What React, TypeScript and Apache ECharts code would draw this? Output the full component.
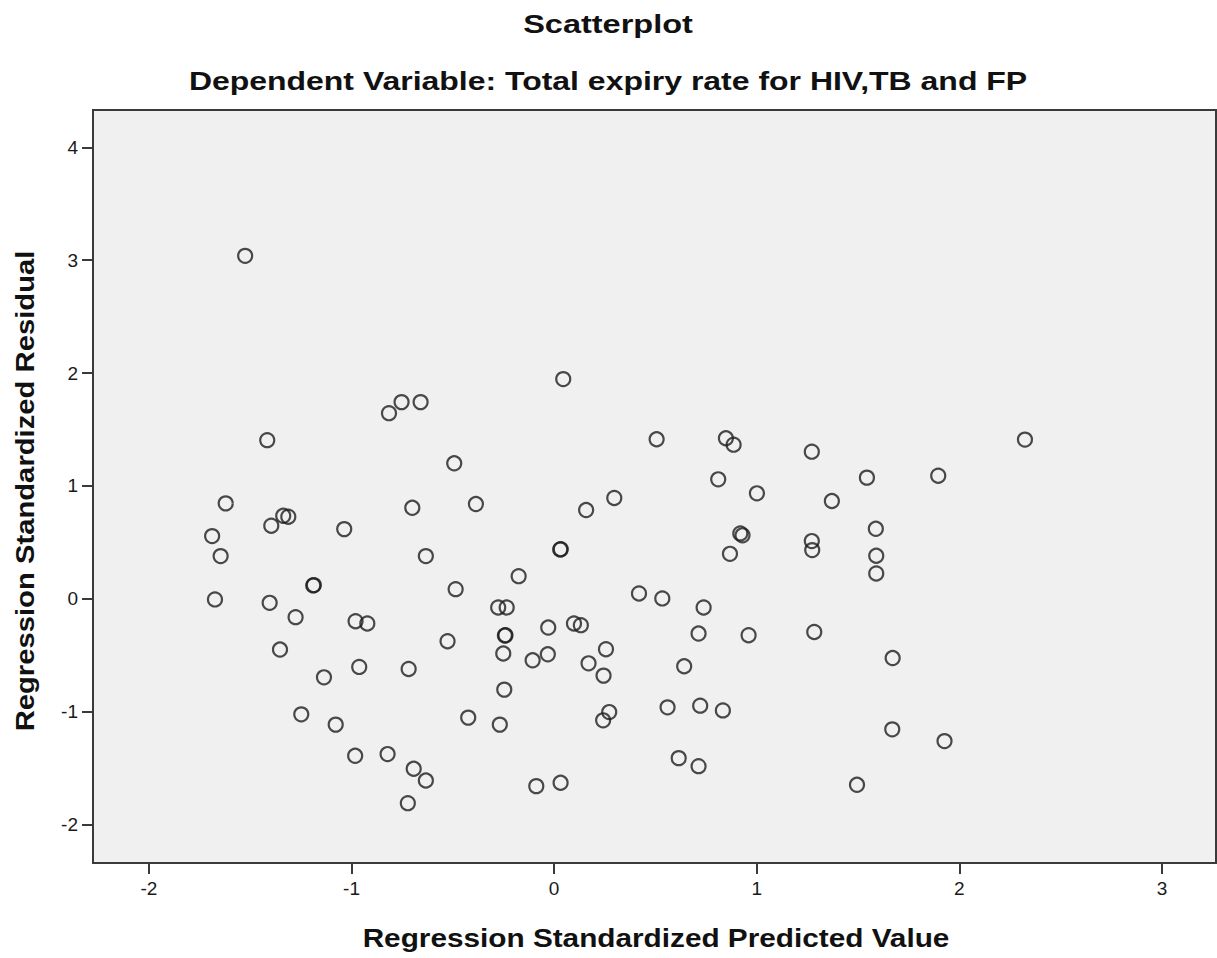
import React, { useEffect, useRef } from "react";
import * as echarts from "echarts";

const titleText = "Scatterplot";
const subtitleText = "Dependent Variable: Total expiry rate for HIV,TB and FP";
const xAxisTitle = "Regression Standardized Predicted Value";
const yAxisTitle = "Regression Standardized Residual";

const xTicks = [-2, -1, 0, 1, 2, 3];
const yTicks = [-2, -1, 0, 1, 2, 3, 4];

const predictedValues = [
  -1.525, 0.045, -0.753, -0.659, -0.815, -1.416, -0.493, -1.621, -0.386, -0.7,
  -1.337, -1.312, -1.396, -1.688, -1.036, -1.646, -0.633, -1.189, -1.186, -1.674,
  -1.404, -0.486, -1.276, -0.98, -0.922, -0.526, -1.353, -0.962, -0.718, -1.136,
  -1.248, -1.078, -0.424, -0.982, -0.822, -0.693, -0.633, -0.722, -0.276, -0.234,
  -0.243, -0.24, -0.029, 0.098, 0.132, 0.713, 0.96, -0.251, -0.106, -0.031,
  0.256, 0.17, 0.244, 0.642, -0.246, -0.268, 0.272, 0.242, 0.56, 0.721,
  0.833, 0.615, 0.713, -0.088, 0.032, 0.506, 0.848, 0.886, 0.81, 1.001,
  0.297, 0.158, 0.03, 0.033, 0.919, 0.93, 0.868, -0.175, 0.419, 0.534,
  0.738, 2.324, 1.272, 1.896, 1.544, 1.371, 1.588, 1.272, 1.274, 1.59,
  1.59, 1.284, 1.671, 1.669, 1.927, 1.495,
];

const residuals = [
  3.039, 1.947, 1.743, 1.743, 1.645, 1.406, 1.201, 0.846, 0.84, 0.807,
  0.736, 0.728, 0.648, 0.556, 0.618, 0.379, 0.379, 0.119, 0.122, -0.005,
  -0.035, 0.086, -0.162, -0.198, -0.218, -0.375, -0.449, -0.603, -0.621, -0.695,
  -1.023, -1.114, -1.052, -1.39, -1.375, -1.505, -1.609, -1.81, -0.076, -0.076,
  -0.325, -0.322, -0.254, -0.218, -0.233, -0.307, -0.322, -0.484, -0.544, -0.491,
  -0.446, -0.571, -0.68, -0.597, -0.804, -1.114, -1.003, -1.076, -0.961, -0.946,
  -0.988, -1.411, -1.482, -1.659, -1.629, 1.414, 1.423, 1.366, 1.059, 0.935,
  0.894, 0.787, 0.438, 0.44, 0.58, 0.563, 0.399, 0.201, 0.048, 0.004,
  -0.076, 1.411, 1.304, 1.091, 1.074, 0.867, 0.621, 0.512, 0.432, 0.382,
  0.225, -0.293, -0.524, -1.156, -1.26, -1.647,
];

const FONT = "'Liberation Sans', Arial, sans-serif";

export default function App() {
  const ref = useRef<HTMLDivElement>(null);

  useEffect(() => {
    document.body.style.margin = "0";
    const chart = echarts.init(ref.current!, undefined, { renderer: "svg" });
    const points = predictedValues.map((x, i) => [x, residuals[i]]);

    chart.setOption({
      animation: false,
      backgroundColor: "#ffffff",
      grid: {
        left: 93,
        top: 110,
        width: 1123,
        height: 753,
        show: true,
        backgroundColor: "#f0f0f0",
        borderColor: "#3a3a3a",
        borderWidth: 2,
      },
      graphic: [
        {
          type: "text",
          x: 608,
          y: 24,
          scaleX: 1.25,
          style: {
            text: titleText,
            font: `bold 26px ${FONT}`,
            fill: "#111",
            textAlign: "center",
            textVerticalAlign: "middle",
          },
        },
        {
          type: "text",
          x: 608,
          y: 81,
          scaleX: 1.23,
          style: {
            text: subtitleText,
            font: `bold 26px ${FONT}`,
            fill: "#111",
            textAlign: "center",
            textVerticalAlign: "middle",
          },
        },
        {
          type: "text",
          x: 656,
          y: 938,
          scaleX: 1.19,
          style: {
            text: xAxisTitle,
            font: `bold 25px ${FONT}`,
            fill: "#111",
            textAlign: "center",
            textVerticalAlign: "middle",
          },
        },
        {
          type: "text",
          x: 25,
          y: 491,
          rotation: Math.PI / 2,
          scaleX: 1.17,
          style: {
            text: yAxisTitle,
            font: `bold 25px ${FONT}`,
            fill: "#111",
            textAlign: "center",
            textVerticalAlign: "middle",
          },
        },
      ],
      xAxis: {
        type: "value",
        min: -2.276,
        max: 3.267,
        axisLine: { show: true, onZero: false, lineStyle: { color: "#3a3a3a", width: 2 } },
        axisTick: {
          show: true,
          customValues: xTicks,
          length: 11,
          lineStyle: { color: "#3a3a3a", width: 2 },
        },
        axisLabel: {
          customValues: xTicks,
          formatter: (v: number) => String(Math.round(v)),
          fontFamily: FONT,
          fontSize: 19,
          color: "#1a1a1a",
          margin: 16,
        },
        splitLine: { show: false },
      },
      yAxis: {
        type: "value",
        min: -2.34,
        max: 4.331,
        axisLine: { show: true, onZero: false, lineStyle: { color: "#3a3a3a", width: 2 } },
        axisTick: {
          show: true,
          customValues: yTicks,
          length: 11,
          lineStyle: { color: "#3a3a3a", width: 2 },
        },
        axisLabel: {
          customValues: yTicks,
          formatter: (v: number) => String(Math.round(v)),
          fontFamily: FONT,
          fontSize: 19,
          color: "#1a1a1a",
          margin: 15,
        },
        splitLine: { show: false },
      },
      series: [
        {
          type: "scatter",
          data: points,
          symbol: "circle",
          symbolSize: 14,
          itemStyle: {
            color: "rgba(0,0,0,0)",
            borderColor: "#1e1e1e",
            borderWidth: 2.2,
          },
        },
      ],
    });

    return () => chart.dispose();
  }, []);

  return <div ref={ref} style={{ width: 1217, height: 958 }} />;
}
